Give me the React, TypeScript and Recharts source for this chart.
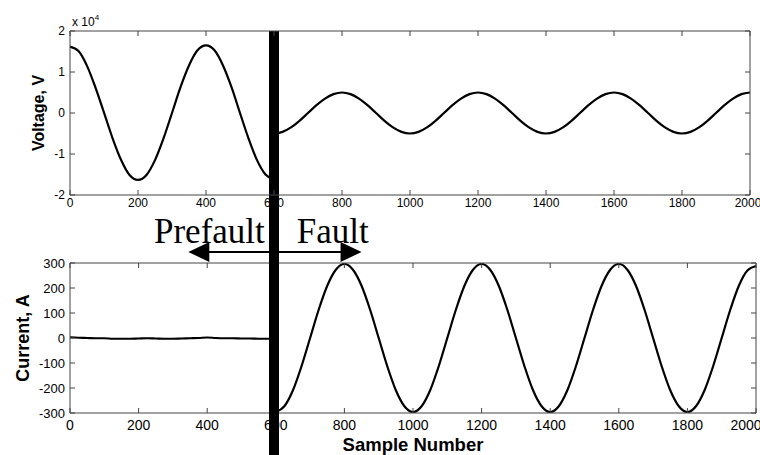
import React from 'react'
import { LineChart, Line, XAxis, YAxis, ReferenceLine } from 'recharts'

// sample index every 25 samples
const samples = [
  0, 25, 50, 75, 100, 125, 150, 175, 200, 225, 250, 275, 300, 325, 350, 375, 400, 425, 450, 475,
  500, 525, 550, 575, 600, 625, 650, 675, 700, 725, 750, 775, 800, 825, 850, 875, 900, 925, 950, 975,
  1000, 1025, 1050, 1075, 1100, 1125, 1150, 1175, 1200, 1225, 1250, 1275, 1300, 1325, 1350, 1375,
  1400, 1425, 1450, 1475, 1500, 1525, 1550, 1575, 1600, 1625, 1650, 1675, 1700, 1725, 1750, 1775,
  1800, 1825, 1850, 1875, 1900, 1925, 1950, 1975, 2000,
]

// voltage in units of 10^4 V, samples 0..600
const voltagePre = [
  1.62, 1.51, 1.15, 0.62, 0.01, -0.61, -1.14, -1.51, -1.63, -1.51, -1.15, -0.62, 0, 0.63, 1.16, 1.53,
  1.65, 1.53, 1.16, 0.63, 0, -0.62, -1.15, -1.5, -1.62,
]

// voltage in units of 10^4 V, samples 600..2000
const voltageFault = [
  -0.5, -0.46, -0.35, -0.19, 0, 0.19, 0.35, 0.46, 0.5, 0.46, 0.35, 0.19, 0, -0.19, -0.35, -0.46,
  -0.5, -0.46, -0.35, -0.19, 0, 0.19, 0.35, 0.46, 0.5, 0.46, 0.35, 0.19, 0, -0.19, -0.35, -0.46,
  -0.5, -0.46, -0.35, -0.19, 0, 0.19, 0.35, 0.46, 0.5, 0.46, 0.35, 0.19, 0, -0.19, -0.35, -0.46,
  -0.5, -0.46, -0.35, -0.19, 0, 0.19, 0.35, 0.46, 0.5,
]

// current in A, samples 0..600
const currentPre = [
  3, 1, 0, -1, -1, -3, -3, -3, -2, -1, -2, -3, -3, -2, -1, 0, 2, 0, -1, -1, -2, -2, -3, -3, -3,
]

// current in A, samples 600..2000
const currentFault = [
  -296, -273, -209, -113, 0, 113, 209, 273, 296, 273, 209, 113, 0, -113, -209, -273,
  -296, -273, -209, -113, 0, 113, 209, 273, 296, 273, 209, 113, 0, -113, -209, -273,
  -296, -273, -209, -113, 0, 113, 209, 273, 296, 273, 209, 113, 0, -113, -209, -273,
  -296, -273, -209, -113, 0, 113, 209, 270, 288,
]

const xTicks = [0, 200, 400, 600, 800, 1000, 1200, 1400, 1600, 1800, 2000]
const voltageTicks = [-2, -1, 0, 1, 2]
const currentTicks = [-300, -200, -100, 0, 100, 200, 300]

const faultSample = 600
const prefaultArrowEnd = 345
const faultArrowEnd = 850
const arrowLevel = 344

const W = 760
const H = 455
const split = samples.indexOf(faultSample)

const rows = samples.map((n, i) => ({
  n,
  vPre: i <= split ? voltagePre[i] : null,
  vFault: i >= split ? voltageFault[i - split] : null,
  iPre: i <= split ? currentPre[i] : null,
  iFault: i >= split ? currentFault[i - split] : null,
}))

const SANS = '"Liberation Sans", Arial, sans-serif'
const SERIF = '"Liberation Serif", "Times New Roman", serif'
const AXIS = '#444'
const noLabel = () => ''

function FaultBar(p: any) {
  const top = Math.min(p.y1, p.y2)
  return <rect x={p.x1 - 5} y={top} width={10} height={H - top} fill="#000" />
}

function FaultArrow(p: any) {
  const y = p.y1
  const l = Math.min(p.x1, p.x2)
  const r = Math.max(p.x1, p.x2)
  return (
    <g>
      <line x1={l + 18} y1={y} x2={r - 18} y2={y} stroke="#000" strokeWidth={2} />
      <polygon points={`${l},${y} ${l + 21},${y - 10} ${l + 21},${y + 10}`} fill="#000" />
      <polygon points={`${r},${y} ${r - 21},${y - 10} ${r - 21},${y + 10}`} fill="#000" />
    </g>
  )
}

function FaultWords(p: any) {
  const top = Math.min(p.y1, p.y2)
  const x = p.x1
  return (
    <g fontFamily={SERIF} fontSize={35} fill="#000">
      <text x={x - 11} y={top - 20} textAnchor="end">Prefault</text>
      <text x={x + 21} y={top - 20}>Fault</text>
    </g>
  )
}

function Multiplier(p: any) {
  const vb = p.viewBox || { x: 70, y: 30, height: 1 }
  return (
    <text x={vb.x + 2} y={vb.y + vb.height - 5} fontFamily={SANS} fontSize={12} fill="#000">
      x 10<tspan dy={-6} fontSize={8}>4</tspan>
    </text>
  )
}

export default function App() {
  return (
    <div style={{ position: 'absolute', left: 0, top: 0, width: W, height: H, background: '#fff' }}>
      {/* current plot */}
      <div style={{ position: 'absolute', left: 0, top: 0 }}>
        <LineChart width={W} height={H} data={rows} margin={{ top: 262, right: 3, bottom: 0, left: 10 }}>
          <XAxis
            dataKey="n"
            type="number"
            domain={[0, 2000]}
            ticks={xTicks}
            height={42}
            stroke={AXIS}
            tickSize={-5}
            tickMargin={12}
            tick={{ fontSize: 14, fill: '#000', fontFamily: SANS }}
            label={{ value: 'Sample Number', position: 'insideBottom', offset: 4, style: { fontFamily: SANS, fontSize: 18.5, fontWeight: 'bold', fill: '#000' } }}
          />
          <XAxis xAxisId="top" orientation="top" dataKey="n" type="number" domain={[0, 2000]} ticks={xTicks} height={1} stroke={AXIS} tickSize={-5} tickFormatter={noLabel} />
          <YAxis
            type="number"
            domain={[-300, 300]}
            ticks={currentTicks}
            width={60}
            stroke={AXIS}
            tickSize={-5}
            tickMargin={10}
            allowDataOverflow
            tick={{ fontSize: 13, fill: '#000', fontFamily: SANS }}
            label={{ value: 'Current, A', angle: -90, position: 'insideLeft', offset: 13, style: { textAnchor: 'middle', fontFamily: SANS, fontSize: 18, fontWeight: 'bold', fill: '#000' } }}
          />
          <YAxis yAxisId="right" orientation="right" type="number" domain={[-300, 300]} ticks={currentTicks} width={1} stroke={AXIS} tickSize={-5} tickFormatter={noLabel} allowDataOverflow />
          <Line dataKey="iPre" type="monotone" stroke="#000" strokeWidth={2.2} dot={false} isAnimationActive={false} />
          <Line xAxisId="top" yAxisId="right" dataKey="iFault" type="monotone" stroke="#000" strokeWidth={2.2} dot={false} isAnimationActive={false} />
          <ReferenceLine x={faultSample} shape={FaultWords} />
          <ReferenceLine
            segment={[{ x: prefaultArrowEnd, y: arrowLevel }, { x: faultArrowEnd, y: arrowLevel }]}
            ifOverflow="visible"
            shape={FaultArrow}
          />
        </LineChart>
      </div>
      {/* voltage plot */}
      <div style={{ position: 'absolute', left: 0, top: 0 }}>
        <LineChart width={W} height={H} data={rows} margin={{ top: 30, right: 9, bottom: 240, left: 10 }}>
          <XAxis
            dataKey="n"
            type="number"
            domain={[0, 2000]}
            ticks={xTicks}
            height={20}
            stroke={AXIS}
            tickSize={-5}
            tickMargin={8}
            tick={{ fontSize: 12, fill: '#000', fontFamily: SANS }}
          />
          <XAxis xAxisId="top" orientation="top" dataKey="n" type="number" domain={[0, 2000]} ticks={xTicks} height={1} stroke={AXIS} tickSize={-5} tickFormatter={noLabel} label={Multiplier} />
          <YAxis
            type="number"
            domain={[-2, 2]}
            ticks={voltageTicks}
            width={60}
            stroke={AXIS}
            tickSize={-5}
            tickMargin={10}
            allowDataOverflow
            tick={{ fontSize: 12, fill: '#000', fontFamily: SANS }}
            label={{ value: 'Voltage, V', angle: -90, position: 'insideLeft', offset: 28, style: { textAnchor: 'middle', fontFamily: SANS, fontSize: 16, fontWeight: 'bold', fill: '#000' } }}
          />
          <YAxis yAxisId="right" orientation="right" type="number" domain={[-2, 2]} ticks={voltageTicks} width={1} stroke={AXIS} tickSize={-5} tickFormatter={noLabel} allowDataOverflow />
          <Line dataKey="vPre" type="monotone" stroke="#000" strokeWidth={2.2} dot={false} isAnimationActive={false} />
          <Line xAxisId="top" yAxisId="right" dataKey="vFault" type="monotone" stroke="#000" strokeWidth={2.2} dot={false} isAnimationActive={false} />
          <ReferenceLine x={faultSample} shape={FaultBar} />
        </LineChart>
      </div>
    </div>
  )
}
